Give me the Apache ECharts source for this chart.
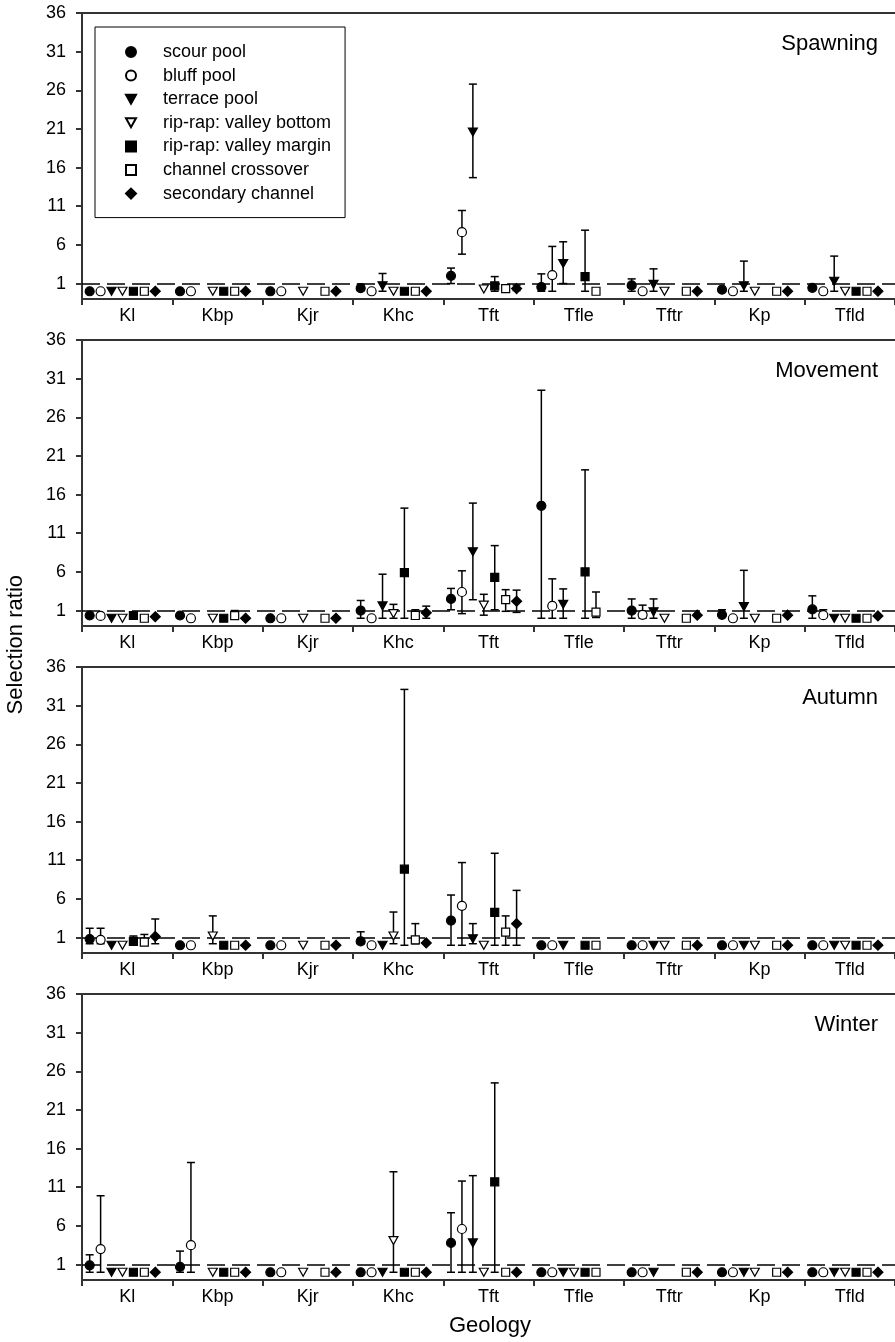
<!DOCTYPE html>
<html><head><meta charset="utf-8">
<script src="https://cdn.jsdelivr.net/npm/echarts@6/dist/echarts.min.js"></script>
<style>html,body{margin:0;padding:0;background:#fff}#c{width:895px;height:1342px}</style>
</head><body><div id="c"></div>
<script>
const N = null;
const geology = ['Kl','Kbp','Kjr','Khc','Tft','Tfle','Tftr','Kp','Tfld'];
const habitats = ['scour pool','bluff pool','terrace pool','rip-rap: valley bottom','rip-rap: valley margin','channel crossover','secondary channel'];
const seasons = ['Spawning','Movement','Autumn','Winter'];
const yTicks = [1,6,11,16,21,26,31,36];

// rows = habitats, columns = geology
const spawningMean = [
  [0, 0, 0, 0.4, 2.0, 0.55, 0.75, 0.2, 0.45],
  [0, 0, 0, 0, 7.65, 2.1, 0, 0, 0],
  [0, N, N, 0.7, 20.6, 3.6, 0.9, 0.7, 1.3],
  [0, 0, 0, 0, 0.3, N, 0, 0, 0],
  [0, 0, N, 0, 0.7, 1.9, N, N, 0],
  [0, 0, 0, 0, 0.35, 0, 0, 0, 0],
  [0, 0, 0, 0, 0.35, N, 0, 0, 0]
];
const spawningLow = [
  [N, N, N, 0.1, 1.0, 0, 0, N, N],
  [N, N, N, N, 4.8, 0, N, N, N],
  [N, N, N, 0, 14.7, 1.0, 0, 0, 0],
  [N, N, N, N, N, N, N, N, N],
  [N, N, N, N, 0, 0, N, N, N],
  [N, N, N, N, N, N, N, N, N],
  [N, N, N, N, 0.1, N, N, N, N]
];
const spawningHigh = [
  [N, N, N, 0.9, 3.0, 2.25, 1.6, N, N],
  [N, N, N, N, 10.45, 5.8, N, N, N],
  [N, N, N, 2.3, 26.8, 6.4, 2.9, 3.9, 4.55],
  [N, N, N, N, N, N, N, N, N],
  [N, N, N, N, 1.9, 7.9, N, N, N],
  [N, N, N, N, N, N, N, N, N],
  [N, N, N, N, 0.8, N, N, N, N]
];

const movementMean = [
  [0.36, 0.36, 0, 1.0, 2.5, 14.55, 1.0, 0.45, 1.15],
  [0.3, 0, 0, 0, 3.4, 1.6, 0.45, 0, 0.4],
  [0, N, N, 1.6, 8.6, 1.8, 0.85, 1.5, 0],
  [0, 0, 0, 0.6, 1.7, N, 0, 0, 0],
  [0.36, 0, N, 5.9, 5.3, 6.0, N, N, 0],
  [0, 0.33, 0, 0.36, 2.4, 0.8, 0, 0, 0],
  [0.2, 0, 0, 0.7, 2.2, N, 0.4, 0.4, 0.3]
];
const movementLow = [
  [N, N, N, 0, 1.1, 0, 0, 0.2, 0],
  [N, N, N, N, 0.6, 0, 0, N, 0.3],
  [N, N, N, 0, 2.4, 0, 0, 0, N],
  [N, N, N, 0, 0.4, N, N, N, N],
  [N, N, N, 0, 1.1, 0, N, N, N],
  [N, 0.1, N, 0, 0.9, 0.1, N, N, N],
  [N, N, N, 0, 0.76, N, N, N, N]
];
const movementHigh = [
  [N, N, N, 2.3, 3.86, 29.5, 2.5, 1.1, 2.9],
  [N, N, N, N, 6.14, 5.1, 1.7, N, 1.1],
  [N, N, N, 5.7, 14.9, 3.8, 2.5, 6.2, N],
  [N, N, N, 1.8, 3.1, N, N, N, N],
  [N, N, N, 14.25, 9.4, 19.2, N, N, N],
  [N, 1.0, N, 1.1, 3.7, 3.4, N, N, N],
  [N, N, N, 1.57, 3.64, N, N, N, N]
];

const autumnMean = [
  [0.8, 0, 0, 0.5, 3.2, 0, 0, 0, 0],
  [0.7, 0, 0, 0, 5.1, 0, 0, 0, 0],
  [0, N, N, 0, 0.85, 0, 0, 0, 0],
  [0, 1.2, 0, 1.2, 0, N, 0, 0, 0],
  [0.5, 0, N, 9.85, 4.25, 0, N, N, 0],
  [0.4, 0, 0, 0.7, 1.7, 0, 0, 0, 0],
  [1.15, 0, 0, 0.3, 2.8, N, 0, 0, 0]
];
const autumnLow = [
  [0.2, N, N, 0.2, 0, N, N, N, N],
  [0.2, N, N, N, 0, N, N, N, N],
  [N, N, N, N, 0.2, N, N, N, N],
  [N, 0.2, N, 0.2, N, N, N, N, N],
  [0.2, N, N, 0, 0, N, N, N, N],
  [0.2, N, N, 0.2, 0, N, N, N, N],
  [0.2, N, N, N, 0, N, N, N, N]
];
const autumnHigh = [
  [2.2, N, N, 1.74, 6.5, N, N, N, N],
  [2.2, N, N, N, 10.7, N, N, N, N],
  [N, N, N, N, 2.8, N, N, N, N],
  [N, 3.8, N, 4.3, N, N, N, N, N],
  [1.2, N, N, 33.1, 11.9, N, N, N, N],
  [1.4, N, N, 2.8, 3.8, N, N, N, N],
  [3.4, N, N, N, 7.1, N, N, N, N]
];

const winterMean = [
  [0.9, 0.7, 0, 0, 3.8, 0, 0, 0, 0],
  [3.0, 3.5, 0, 0, 5.6, 0, 0, 0, 0],
  [0, N, N, 0, 3.8, 0, 0, 0, 0],
  [0, 0, 0, 4.1, 0, 0, N, 0, 0],
  [0, 0, N, 0, 11.7, 0, N, N, 0],
  [0, 0, 0, 0, 0, 0, 0, 0, 0],
  [0, 0, 0, 0, 0, N, 0, 0, 0]
];
const winterLow = [
  [0, 0, N, N, 0, N, N, N, N],
  [0, 0, N, N, 0, N, N, N, N],
  [N, N, N, N, 0, N, N, N, N],
  [N, N, N, 0, N, N, N, N, N],
  [N, N, N, N, 0, N, N, N, N],
  [N, N, N, N, N, N, N, N, N],
  [N, N, N, N, N, N, N, N, N]
];
const winterHigh = [
  [2.26, 2.74, N, N, 7.7, N, N, N, N],
  [9.9, 14.2, N, N, 11.8, N, N, N, N],
  [N, N, N, N, 12.5, N, N, N, N],
  [N, N, N, 13.0, N, N, N, N, N],
  [N, N, N, N, 24.5, N, N, N, N],
  [N, N, N, N, N, N, N, N, N],
  [N, N, N, N, N, N, N, N, N]
];

const panels = [
  {mean: spawningMean, low: spawningLow, high: spawningHigh},
  {mean: movementMean, low: movementLow, high: movementHigh},
  {mean: autumnMean, low: autumnLow, high: autumnHigh},
  {mean: winterMean, low: winterLow, high: winterHigh}
];

// ---- layout / style ----
const FONT = "'Liberation Sans', Arial, Helvetica, sans-serif";
const tops = [13, 340, 667, 994];
const gridLeft = 82, gridWidth = 816, gridHeight = 286;
const offsets = [0.085, 0.206, 0.327, 0.448, 0.569, 0.690, 0.811];
const DOWN = 'path://M0,0L10,0L5,9Z';
const markerStyles = [
  {symbol: 'circle', size: 9, fill: '#000'},
  {symbol: 'circle', size: 9, fill: '#fff'},
  {symbol: DOWN, size: [9, 8], fill: '#000'},
  {symbol: DOWN, size: [9, 8], fill: '#fff'},
  {symbol: 'rect', size: 8, fill: '#000'},
  {symbol: 'rect', size: 8, fill: '#fff'},
  {symbol: 'diamond', size: 10, fill: '#000'}
];
const AXIS = '#333';

const grid = [], xAxis = [], yAxis = [], series = [], title = [];
tops.forEach((t, p) => {
  grid.push({left: gridLeft, top: t, width: gridWidth, height: gridHeight});
});
// value x axes (0..3) used for data; drawn only as top border
tops.forEach((t, p) => {
  xAxis.push({type: 'value', gridIndex: p, min: 0, max: geology.length, position: 'top',
    axisLine: {show: true, onZero: false, lineStyle: {color: AXIS, width: 2}},
    axisTick: {show: false}, axisLabel: {show: false}, splitLine: {show: false}});
});
// category x axes (4..7) for labels/ticks
tops.forEach((t, p) => {
  xAxis.push({type: 'category', gridIndex: p, data: geology, position: 'bottom', boundaryGap: true,
    axisLine: {show: true, onZero: false, lineStyle: {color: AXIS, width: 2}},
    axisTick: {show: true, inside: false, length: 6, lineStyle: {color: AXIS, width: 2}},
    axisLabel: {show: true, color: '#000', fontSize: 18, fontFamily: FONT, margin: 8},
    splitLine: {show: false}});
});
tops.forEach((t, p) => {
  yAxis.push({type: 'value', gridIndex: p, min: -1, max: 36,
    axisLine: {show: true, lineStyle: {color: AXIS, width: 2}},
    axisTick: {show: true, inside: false, length: 6, customValues: yTicks, lineStyle: {color: AXIS, width: 2}},
    axisLabel: {show: true, customValues: yTicks, color: '#000', fontSize: 18, fontFamily: FONT, margin: 16},
    splitLine: {show: false}});
  title.push({text: seasons[p], right: 12, top: t + 15,
    textStyle: {fontSize: 22, fontWeight: 'normal', color: '#000', fontFamily: FONT}});
});

panels.forEach((pd, p) => {
  // error bars
  const bars = [];
  pd.mean.forEach((row, h) => {
    row.forEach((v, g) => {
      const lo = pd.low[h][g], hi = pd.high[h][g];
      if (v !== null && lo !== null && hi !== null) bars.push([g + offsets[h], lo, hi]);
    });
  });
  series.push({
    type: 'custom', xAxisIndex: p, yAxisIndex: p, z: 2, silent: true,
    encode: {x: 0, y: [1, 2]},
    data: bars,
    renderItem: function (params, api) {
      const x = api.value(0), lo = api.value(1), hi = api.value(2);
      const a = api.coord([x, lo]), b = api.coord([x, hi]);
      const w = 4, st = {stroke: '#000', lineWidth: 1.5};
      return {type: 'group', children: [
        {type: 'line', shape: {x1: a[0], y1: a[1], x2: b[0], y2: b[1]}, style: st},
        {type: 'line', shape: {x1: b[0] - w, y1: b[1], x2: b[0] + w, y2: b[1]}, style: st},
        {type: 'line', shape: {x1: a[0] - w, y1: a[1], x2: a[0] + w, y2: a[1]}, style: st}
      ]};
    }
  });
  // markers
  habitats.forEach((name, h) => {
    const ms = markerStyles[h];
    const data = [];
    pd.mean[h].forEach((v, g) => { if (v !== null) data.push([g + offsets[h], v]); });
    const s = {
      type: 'scatter', name: name, xAxisIndex: p, yAxisIndex: p, z: 5,
      symbol: ms.symbol, symbolSize: ms.size,
      itemStyle: {color: ms.fill, borderColor: '#000', borderWidth: 1.2, opacity: 1},
      emphasis: {disabled: true},
      data: data
    };
    if (h === 0) {
      s.markLine = {silent: true, symbol: 'none', label: {show: false}, z: 1,
        lineStyle: {color: '#000', type: [18, 7], width: 1.5},
        emphasis: {disabled: true},
        data: [{yAxis: 1}]};
    }
    series.push(s);
  });
});

const option = {
  animation: false,
  backgroundColor: '#fff',
  textStyle: {fontFamily: FONT},
  title: title,
  grid: grid, xAxis: xAxis, yAxis: yAxis, series: series,
  legend: {
    data: habitats, orient: 'vertical', left: 95, top: 27,
    selectedMode: false,
    borderColor: '#000', borderWidth: 1,
    padding: [16, 14, 15, 30],
    itemWidth: 10, itemHeight: 10, itemGap: 5.6,
    textStyle: {fontSize: 18, color: '#000', fontFamily: FONT, lineHeight: 18, padding: [0, 0, 0, 22]}
  },
  graphic: [
    {type: 'text', left: 5, top: 575, rotation: Math.PI / 2,
      style: {text: 'Selection ratio', fontSize: 22, fontFamily: FONT, fill: '#000'}},
    {type: 'text', left: 449, top: 1315,
      style: {text: 'Geology', fontSize: 22, fontFamily: FONT, fill: '#000'}}
  ]
};
const chart = echarts.init(document.getElementById('c'), null, {renderer: 'canvas'});
chart.setOption(option);
</script>
</body></html>
